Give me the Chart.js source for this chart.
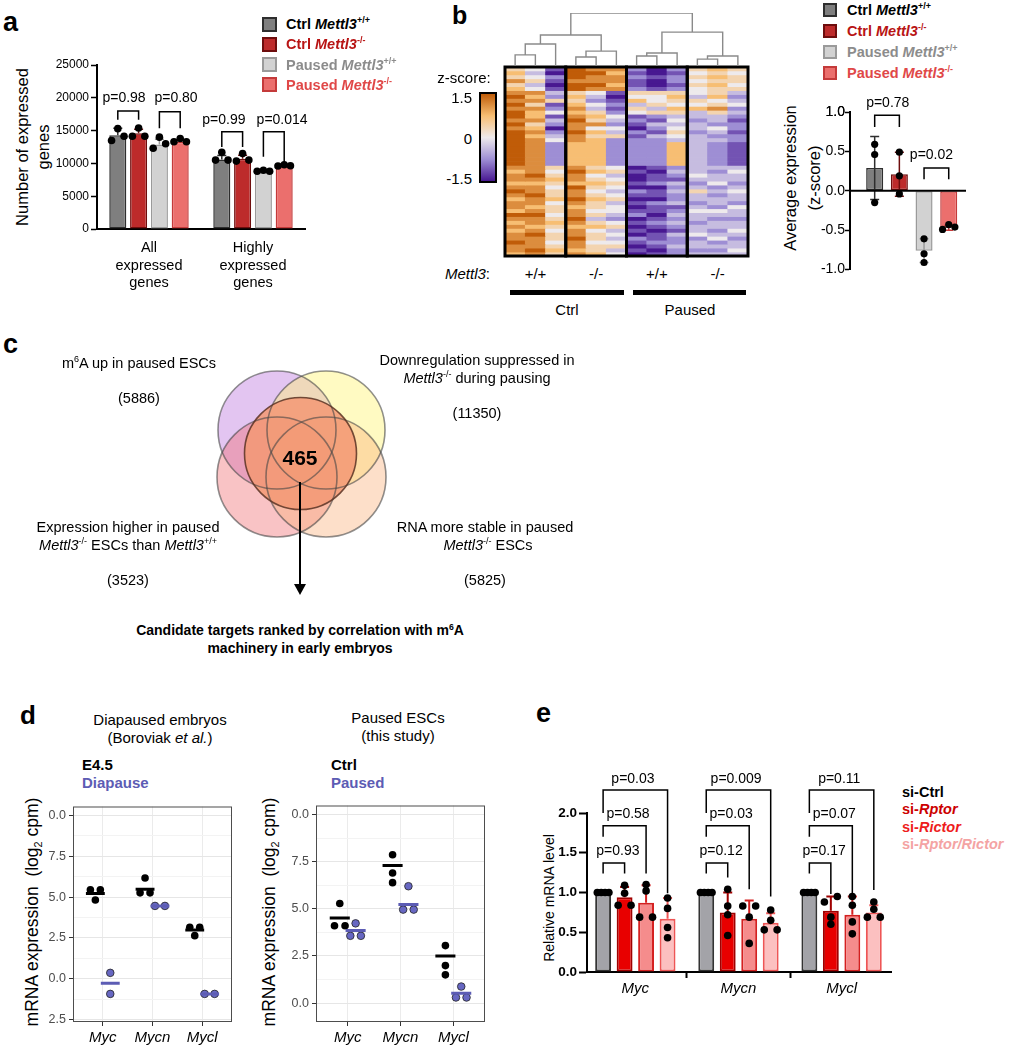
<!DOCTYPE html>
<html lang="en">
<head>
<meta charset="UTF-8">
<title>Mettl3 pausing figure</title>
<script src="https://cdn.jsdelivr.net/npm/chart.js"></script>
<style>
  body { margin: 0; background: #fff; }
  #fig { position: relative; width: 1010px; height: 1050px; overflow: hidden; font-family: "Liberation Sans", Arial, sans-serif; color: #000; }
  #fig canvas { position: absolute; }
  .t { position: absolute; white-space: nowrap; line-height: 1; }
  .t sup { font-size: 0.62em; vertical-align: 0.6em; line-height: 0; }
  .t sub { font-size: 0.62em; vertical-align: -0.3em; line-height: 0; }
  .sq { position: absolute; box-sizing: border-box; border: 2px solid; }
  .blk { position: absolute; background: #000; }
</style>
</head>
<body>
<div id="fig"></div>
<script>
// ---------- data ----------
// a: number of expressed genes (Ctrl +/+, Ctrl -/-, Paused +/+, Paused -/-)
const aGroups = [['All', 'expressed', 'genes'], ['Highly', 'expressed', 'genes']];
const aMean = [[14300, 10600], [14600, 10700], [12900, 8900], [13300, 9700]];
const aSD = [[1050, 600], [600, 550], [800, 120], [280, 120]];
const aDots = [
  [[13500, 15300, 14150], [10500, 11700, 10500]],
  [[14150, 15400, 14150], [10350, 11500, 10500]],
  [[12300, 14000, 13000], [8800, 8950, 8800]],
  [[13300, 13800, 13300], [9600, 9800, 9650]]
];
const aP = ['p=0.98', 'p=0.80', 'p=0.99', 'p=0.014'];
const condNames = [['Ctrl', '+/+'], ['Ctrl', '-/-'], ['Paused', '+/+'], ['Paused', '-/-']];

// b: heatmap, one string per sample column, digit 0..8 -> z -1.5..1.5
const hmCols = [
  '565756' + '787878' + '8787888' + '888888' + '76776787677687676778776',
  '434534' + '767576' + '6756767' + '777777' + '77876778776787767877787',
  '102101' + '325124' + '1320234' + '222222' + '54565455645545654554565',
  '888788' + '565676' + '7877877' + '666666' + '78776877876778767787767',
  '787787' + '432435' + '6574656' + '666666' + '56456545655453564554556',
  '767767' + '101212' + '4324352' + '222222' + '45345434534432453434534',
  '212112' + '546354' + '1210212' + '222222' + '01001021010120101021010',
  '001001' + '544535' + '2132132' + '222222' + '10112011021101210112101',
  '212212' + '565465' + '3434543' + '666666' + '23213232231232321322322',
  '545454' + '435463' + '3233233' + '333333' + '33432353323433233423323',
  '656565' + '564575' + '3324323' + '222222' + '32334232332432332342323',
  '545545' + '323423' + '2122122' + '111111' + '34332343324332334323343'
];
const hmGenotypes = ['+/+', '-/-', '+/+', '-/-'];
const hmConditions = ['Ctrl', 'Paused'];
const zTickLabels = ['1.5', '0', '-1.5'];
// dendrogram merges: left x, right x, height, left base, right base (columns, normalised height)
const dendro = [
  [0.5, 1.5, 0.21, 0, 0], [1.0, 2.5, 0.415, 0.21, 0],
  [3.5, 4.5, 0.17, 0, 0], [4.0, 5.5, 0.28, 0.17, 0],
  [1.75, 4.75, 0.585, 0.415, 0.28],
  [6.5, 7.5, 0.19, 0, 0], [7.0, 8.5, 0.245, 0.19, 0],
  [9.5, 10.5, 0.13, 0, 0], [10.0, 11.5, 0.19, 0.13, 0],
  [7.75, 10.75, 0.64, 0.245, 0.19],
  [3.25, 9.25, 1.0, 0.585, 0.64]
];

// b: average expression (z-score)
const bMean = [0.29, 0.21, -0.76, -0.47];
const bSD = [0.40, 0.28, 0.15, 0.03];
const bDots = [[0.59, 0.46, -0.15], [0.49, 0.19, -0.04], [-0.61, -0.80, -0.91], [-0.49, -0.43, -0.46]];
const bP = ['p=0.78', 'p=0.02'];
const bTicks = [-1, -0.5, 0, 0.5, 1];

// c: venn counts
const vennCounts = ['(5886)', '(11350)', '(3523)', '(5825)'];
const vennCore = '465';

// d: mRNA expression (log2 cpm)
const dGenes = ['Myc', 'Mycn', 'Mycl'];
const dEmbCtrl = [[5.45, 5.45, 4.82], [6.17, 5.26, 5.26], [3.15, 3.15, 2.64]];
const dEmbCtrlMean = [5.22, 5.48, 2.98];
const dEmbDia = [[0.36, -0.93], [4.46, 4.46], [-0.93, -0.93]];
const dEmbDiaMean = [-0.28, 4.46, -0.93];
const dEscCtrl = [[5.28, 4.10, 4.10], [7.87, 6.90, 6.39], [3.05, 1.99, 1.50]];
const dEscCtrlMean = [4.52, 7.30, 2.50];
const dEscPaused = [[4.23, 3.57, 3.57], [6.20, 4.96, 4.96], [0.88, 0.30, 0.30]];
const dEscPausedMean = [3.85, 5.23, 0.53];
const dEmbTickVals = [10, 7.5, 5, 2.5, 0, -2.5];
const dEmbTickLabels = ['0.0', '7.5', '5.0', '2.5', '0.0', '2.5'];
const dEscTickVals = [10, 7.5, 5, 2.5, 0];
const dEscTickLabels = ['0.0', '7.5', '5.0', '2.5', '0.0'];

// e: relative mRNA level (si-Ctrl, si-Rptor, si-Rictor, si-Rptor/Rictor) x (Myc, Mycn, Mycl)
const eMean = [[1, 1, 1], [0.94, 0.75, 0.77], [0.87, 0.67, 0.72], [0.67, 0.62, 0.75]];
const eSD = [[0, 0, 0], [0.13, 0.25, 0.18], [0.22, 0.23, 0.23], [0.26, 0.12, 0.09]];
const eDots = [
  [[1, 1, 1, 1], [1, 1, 1, 1], [1, 1, 1, 1]],
  [[1.09, 0.99, 0.84, 0.84], [1.04, 0.83, 0.72, 0.46], [0.95, 0.88, 0.69, 0.60]],
  [[1.10, 1.02, 0.69, 0.69], [0.83, 0.83, 0.69, 0.36], [0.95, 0.84, 0.63, 0.48]],
  [[0.93, 0.80, 0.56, 0.43], [0.78, 0.65, 0.53, 0.53], [0.88, 0.79, 0.69, 0.69]]
];
const eP = [['p=0.93', 'p=0.58', 'p=0.03'], ['p=0.12', 'p=0.03', 'p=0.009'], ['p=0.17', 'p=0.07', 'p=0.11']];
const eNames = ['si-Ctrl', 'si-<i>Rptor</i>', 'si-<i>Rictor</i>', 'si-<i>Rptor/Rictor</i>'];

// ---------- helpers ----------
const FONT = '"Liberation Sans", Arial, sans-serif';
Chart.defaults.font.family = FONT;
Chart.defaults.color = '#000';
const fig = document.getElementById('fig');

function C(x, y, w, h) {
  const c = document.createElement('canvas');
  c.width = w; c.height = h;
  c.style.left = x + 'px'; c.style.top = y + 'px';
  c.style.width = w + 'px'; c.style.height = h + 'px';
  fig.appendChild(c);
  return c;
}
function T(x, y, html, o = {}) {
  const d = document.createElement('div');
  d.className = 't';
  d.innerHTML = html;
  const a = o.align || 'c';
  let tr = a === 'l' ? 'translate(0,-50%)' : a === 'r' ? 'translate(-100%,-50%)' : 'translate(-50%,-50%)';
  if (o.rot) tr = 'translate(-50%,-50%) rotate(-90deg)';
  d.style.cssText = `left:${x}px;top:${y}px;font-size:${o.size || 15}px;transform:${tr};` +
    (o.bold ? 'font-weight:bold;' : '') + (o.color ? `color:${o.color};` : '') +
    (o.lh ? `line-height:${o.lh}px;text-align:center;` : '');
  fig.appendChild(d);
}
function box(cls, x, y, w, h, css) {
  const d = document.createElement('div');
  d.className = cls;
  d.style.cssText = `left:${x}px;top:${y}px;width:${w}px;height:${h}px;` + (css || '');
  fig.appendChild(d);
}
const base = (extra) => Object.assign({
  responsive: false, devicePixelRatio: 1, animation: false, events: []
}, extra);
const noPlug = { legend: { display: false }, tooltip: { enabled: false } };

// error bars, brackets, zero line, frame
function annot(cfg) {
  return {
    id: 'annot',
    afterDatasetDraw(chart, args) {
      const ds = chart.data.datasets[args.index];
      if (!ds.sd) return;
      const ctx = chart.ctx, xs = chart.scales.x, ys = chart.scales.y;
      ctx.save();
      ctx.strokeStyle = ds.borderColor;
      ctx.lineWidth = cfg.errWidth || 1.5;
      ds.data.forEach((p, i) => {
        const s = ds.sd[i];
        if (!s) return;
        const px = xs.getPixelForValue(p.x), py = ys.getPixelForValue(p.y);
        const ends = cfg.errBoth ? [p.y + s, p.y - s] : [p.y + (p.y < 0 ? -s : s)];
        ends.forEach(v => {
          const q = ys.getPixelForValue(v);
          ctx.beginPath();
          ctx.moveTo(px, py); ctx.lineTo(px, q);
          ctx.moveTo(px - 4.5, q); ctx.lineTo(px + 4.5, q);
          ctx.stroke();
        });
      });
      ctx.restore();
    },
    afterDraw(chart) {
      const ctx = chart.ctx, A = chart.chartArea, xs = chart.scales.x, ys = chart.scales.y;
      ctx.save();
      if (cfg.zero) {
        const y0 = ys.getPixelForValue(0);
        ctx.strokeStyle = '#000'; ctx.lineWidth = 2;
        ctx.beginPath(); ctx.moveTo(A.left, y0); ctx.lineTo(A.right, y0); ctx.stroke();
      }
      if (cfg.frame) {
        ctx.strokeStyle = cfg.frame; ctx.lineWidth = 1;
        ctx.strokeRect(A.left + 0.5, A.top + 0.5, A.right - A.left - 1, A.bottom - A.top - 1);
      }
      if (cfg.topLabel) {
        // make sure the label of the top y tick is painted
        const top = ys.ticks[ys.ticks.length - 1];
        ctx.fillStyle = '#000';
        ctx.font = `${cfg.tickSize || 14}px ${FONT}`;
        ctx.textAlign = 'right'; ctx.textBaseline = 'middle';
        ctx.fillText(top.label, ys.right - cfg.tickGap, ys.getPixelForValue(top.value));
      }
      (cfg.brackets || []).forEach(([x1, x2, top, l1, l2, text, tx, ty]) => {
        const X1 = xs.getPixelForValue(x1), X2 = xs.getPixelForValue(x2), Y = ys.getPixelForValue(top);
        ctx.strokeStyle = '#000'; ctx.lineWidth = 1.5;
        ctx.beginPath();
        ctx.moveTo(X1, ys.getPixelForValue(l1)); ctx.lineTo(X1, Y);
        ctx.lineTo(X2, Y); ctx.lineTo(X2, ys.getPixelForValue(l2));
        ctx.stroke();
        ctx.fillStyle = '#000';
        ctx.font = `${cfg.pSize || 14}px ${FONT}`;
        ctx.textAlign = 'center'; ctx.textBaseline = 'middle';
        ctx.fillText(text, xs.getPixelForValue(tx), ys.getPixelForValue(ty));
      });
      ctx.restore();
    }
  };
}

const condColors = [
  { bg: '#7f7f7f', bd: '#2e2e2e', txt: '#000' },
  { bg: '#bd2b2b', bd: '#6e0d0d', txt: '#b81414' },
  { bg: '#d2d2d2', bd: '#9a9a9a', txt: '#8c8c8c' },
  { bg: '#eb6f6d', bd: '#c43a3a', txt: '#e04848' }
];

// ---------- panel a ----------
T(3, 22, 'a', { size: 27, bold: true, align: 'l' });
T(33, 147, 'Number of expressed<br>genes', { size: 16.5, rot: true, lh: 21 });
const aX = (g, k) => 1 + g * 5 + k;
const aJit = [-0.3, 0, 0.3];
new Chart(C(40, 50, 275, 250), {
  type: 'bar',
  data: {
    datasets: aMean.map((m, k) => ({
      type: 'bar', data: m.map((v, g) => ({ x: aX(g, k), y: v })), sd: aSD[k],
      backgroundColor: condColors[k].bg, borderColor: condColors[k].bd, borderWidth: 1.5,
      borderSkipped: false, grouped: false, barPercentage: 0.82, categoryPercentage: 1, order: 1
    })).concat(aDots.map((grp, k) => ({
      type: 'scatter', order: 0,
      data: grp.flatMap((vals, g) => vals.map((v, j) => ({ x: aX(g, k) + aJit[j], y: v }))),
      pointRadius: 3.8, pointBackgroundColor: '#000', pointBorderWidth: 0
    })))
  },
  options: base({
    layout: { padding: { top: 15, right: 10, left: 0, bottom: 0 } },
    plugins: noPlug,
    scales: {
      x: {
        type: 'linear', min: 0, max: 10, offset: false,
        afterBuildTicks: s => { s.ticks = [{ value: 2.5 }, { value: 7.5 }]; },
        afterFit: s => { s.height = 71; },
        grid: { display: false, drawTicks: false },
        border: { display: true, color: '#000', width: 2 },
        ticks: { callback: (v, i) => aGroups[i], padding: 10, maxRotation: 0, autoSkip: false,
                 font: { size: 14.5, lineHeight: 1.22 } }
      },
      y: {
        min: 0, max: 25000,
        afterFit: s => { s.width = 57; },
        grid: { drawOnChartArea: false, tickLength: 6, tickWidth: 1.5, tickColor: '#000' },
        border: { color: '#000', width: 2 },
        ticks: { stepSize: 5000, callback: v => String(v), font: { size: 12 }, padding: 2 }
      }
    }
  }),
  plugins: [annot({ brackets: [
    [1, 2, 17970, 16650, 16650, aP[0], 1.3, 19900],
    [3, 4, 17870, 15350, 15350, aP[1], 3.8, 19900],
    [6, 7, 14820, 12500, 12500, aP[2], 6.1, 16600],
    [8, 9, 14820, 11000, 10050, aP[3], 8.9, 16600]
  ] })]
});

// legends (a and b)
condNames.forEach(([n, g], k) => {
  const html = `${n} <i>Mettl3</i><sup>${g}</sup>`;
  const c = condColors[k];
  box('sq', 262, 24 + k * 20.3 - 7.5, 15, 15, `background:${c.bg};border-color:${c.bd};`);
  T(286, 24 + k * 20.3, html, { size: 14.5, bold: true, align: 'l', color: c.txt });
  box('sq', 823, 10 + k * 21 - 7, 14, 14, `background:${c.bg};border-color:${c.bd};`);
  T(847, 10 + k * 21, html, { size: 14.5, bold: true, align: 'l', color: c.txt });
});

// ---------- panel b : heatmap ----------
T(452, 15, 'b', { size: 25, bold: true, align: 'l' });
const zStops = [[-1.5, [72, 24, 145]], [-0.75, [158, 142, 212]], [0, [238, 234, 236]], [0.75, [247, 190, 115]], [1.5, [192, 92, 8]]];
function zColor(z) {
  z = Math.max(-1.5, Math.min(1.5, z));
  for (let i = 1; i < zStops.length; i++) {
    const [z0, c0] = zStops[i - 1], [z1, c1] = zStops[i];
    if (z <= z1) {
      const t = (z - z0) / (z1 - z0);
      return `rgb(${c0.map((c, j) => Math.round(c + (c1[j] - c) * t)).join(',')})`;
    }
  }
}
const hmRows = hmCols[0].length;
const hmData = [];
for (let r = 0; r < hmRows; r++) {
  hmData.push({
    data: hmCols.map(() => 1),
    backgroundColor: hmCols.map(s => zColor((+s[r] - 4) * 0.375)),
    borderWidth: 0, barPercentage: 1, categoryPercentage: 1
  });
}
const hmFrame = {
  id: 'hmFrame',
  afterDraw(chart) {
    const ctx = chart.ctx, A = chart.chartArea, w = (A.right - A.left) / 4;
    ctx.save();
    ctx.strokeStyle = '#000'; ctx.lineWidth = 3;
    for (let b = 0; b < 4; b++) ctx.strokeRect(A.left + b * w, A.top, w, A.bottom - A.top);
    ctx.restore();
  }
};
new Chart(C(503, 64, 247, 195), {
  type: 'bar',
  data: { labels: hmCols.map((_, i) => 'S' + (i + 1)), datasets: hmData },
  options: base({
    layout: { padding: { left: 2, right: 2, top: 3, bottom: 3 } },
    plugins: noPlug,
    scales: {
      x: { display: false, stacked: true },
      y: { display: false, stacked: true, reverse: true, min: 0, max: hmRows }
    }
  }),
  plugins: [hmFrame]
});
const dendPts = [];
dendro.forEach(([xl, xr, h, hl, hr]) => {
  dendPts.push({ x: xl, y: hl }, { x: xl, y: h }, { x: xr, y: h }, { x: xr, y: hr }, { x: xr, y: null });
});
new Chart(C(503, 10, 247, 57), {
  type: 'scatter',
  data: { datasets: [{ data: dendPts, showLine: true, spanGaps: false, borderColor: '#8a8a8a', borderWidth: 1.4, pointRadius: 0 }] },
  options: base({
    layout: { padding: { left: 2, right: 2, top: 3, bottom: 1 } },
    plugins: noPlug,
    scales: { x: { display: false, min: 0, max: 12 }, y: { display: false, min: 0, max: 1 } }
  })
});
T(464, 77, 'z-score:', { size: 15 });
box('sq', 479, 92, 18, 91, 'border-color:#000;background:linear-gradient(to bottom,' +
  zStops.slice().reverse().map(s => `rgb(${s[1].join(',')})`).join(',') + ');');
zTickLabels.forEach((l, i) => T(472, 97 + i * 40.5, l, { size: 15, align: 'r' }));
T(490, 273, '<i>Mettl3</i>:', { size: 15, align: 'r' });
hmGenotypes.forEach((g, i) => T(535.5 + i * 60.7, 273, g, { size: 15 }));
box('blk', 510, 290, 114, 5);
box('blk', 633, 290, 113, 5);
hmConditions.forEach((c, i) => T(567 + i * 123, 309, c, { size: 15 }));

// ---------- panel b : bars ----------
T(802, 178, 'Average expression<br>(z-score)', { size: 16.5, rot: true, lh: 24 });
new Chart(C(805, 85, 171, 193), {
  type: 'bar',
  data: {
    datasets: bMean.map((m, k) => ({
      type: 'bar', data: [{ x: k + 1, y: m }], sd: [bSD[k]],
      backgroundColor: condColors[k].bg, borderColor: condColors[k].bd, borderWidth: 1.5,
      borderSkipped: false, grouped: false, barPercentage: 0.69, categoryPercentage: 1, order: 1
    })).concat(bDots.map((vals, k) => ({
      type: 'scatter', order: 0,
      data: vals.map((v, j) => ({ x: k + 1 + (k === 3 ? (j - 1) * 0.25 : 0), y: v })),
      pointRadius: 3.6, pointBackgroundColor: '#000', pointBorderWidth: 0
    })))
  },
  options: base({
    layout: { padding: { top: 27, right: 10, left: 0, bottom: 5 } },
    plugins: noPlug,
    scales: {
      x: { type: 'linear', display: false, min: 0, max: 4.7, offset: false },
      y: {
        min: -1, max: 1,
        afterBuildTicks: s => { s.ticks = bTicks.map(v => ({ value: v })); },
        afterFit: s => { s.width = 45; },
        grid: { drawOnChartArea: false, tickLength: 5, tickWidth: 1.5, tickColor: '#000' },
        border: { color: '#000', width: 2 },
        ticks: { autoSkip: false, callback: v => Number(v).toFixed(1), font: { size: 14 }, padding: 0 }
      }
    }
  }),
  plugins: [annot({ errBoth: true, zero: true, topLabel: true, tickGap: 5, tickSize: 14, brackets: [
    [1, 2, 0.96, 0.81, 0.81, bP[0], 1.53, 1.11],
    [3, 4, 0.29, 0.145, 0.145, bP[1], 3.3, 0.45]
  ] })]
});

// ---------- panel c : venn ----------
T(3, 344, 'c', { size: 27, bold: true, align: 'l' });
const vennLayout = [
  { x: 97, y: 70, r: 59, fill: 'rgba(185,110,220,0.40)' },
  { x: 146, y: 70, r: 59, fill: 'rgba(255,242,110,0.42)' },
  { x: 97, y: 117, r: 60, fill: 'rgba(240,105,110,0.40)' },
  { x: 146, y: 117, r: 60, fill: 'rgba(250,175,120,0.40)' },
  { x: 120.5, y: 93.5, r: 56, fill: 'rgba(243,152,116,0.86)' }
];
const vennDraw = {
  id: 'vennDraw',
  afterDatasetsDraw(chart) {
    const ctx = chart.ctx, xs = chart.scales.x, ys = chart.scales.y;
    const pts = chart.data.datasets[0].data;
    const k = xs.getPixelForValue(100) - xs.getPixelForValue(0);
    const circle = p => {
      ctx.beginPath();
      ctx.arc(xs.getPixelForValue(p.x), ys.getPixelForValue(p.y), p.r * k / 100, 0, Math.PI * 2);
    };
    ctx.save();
    pts.forEach(p => { circle(p); ctx.fillStyle = p.fill; ctx.fill(); });
    pts.forEach((p, i) => {
      circle(p);
      ctx.strokeStyle = i === 4 ? 'rgba(90,50,35,0.85)' : 'rgba(70,70,70,0.6)';
      ctx.lineWidth = 1.6; ctx.stroke();
    });
    ctx.restore();
  }
};
new Chart(C(180, 360, 240, 240), {
  type: 'scatter',
  data: { datasets: [{ data: vennLayout, pointRadius: 0 }] },
  options: base({
    plugins: noPlug,
    scales: { x: { display: false, min: 0, max: 240 }, y: { display: false, min: 0, max: 240, reverse: true } }
  }),
  plugins: [vennDraw]
});
T(300, 457, vennCore, { size: 21, bold: true });
box('blk', 299, 482, 2, 103);
box('blk', 294, 584, 0, 0, 'background:none;border-left:6px solid transparent;border-right:6px solid transparent;border-top:11px solid #000;');
T(139, 363, 'm<sup>6</sup>A up in paused ESCs', { size: 14.5 });
T(139, 398, vennCounts[0], { size: 14.5 });
T(477, 360, 'Downregulation suppressed in', { size: 14.5 });
T(477, 378, '<i>Mettl3</i><sup>-/-</sup> during pausing', { size: 14.5 });
T(477, 413, vennCounts[1], { size: 14.5 });
T(128, 527, 'Expression higher in paused', { size: 14.5 });
T(128, 545, '<i>Mettl3</i><sup>-/-</sup> ESCs than <i>Mettl3</i><sup>+/+</sup>', { size: 14.5 });
T(128, 580, vennCounts[2], { size: 14.5 });
T(485, 527, 'RNA more stable in paused', { size: 14.5 });
T(488, 545, '<i>Mettl3</i><sup>-/-</sup> ESCs', { size: 14.5 });
T(485, 580, vennCounts[3], { size: 14.5 });
T(300, 630, 'Candidate targets ranked by correlation with m<sup>6</sup>A', { size: 14, bold: true });
T(300, 648, 'machinery in early embryos', { size: 14, bold: true });

// ---------- panel d ----------
T(20, 715, 'd', { size: 26, bold: true, align: 'l' });
const BLUE = '#5c5cb4';
function dotSet(vals, dodge, jit, color) {
  return {
    type: 'scatter', order: 1,
    data: vals.flatMap((vs, i) => vs.map((v, j) => ({ x: i + 1 + dodge + jit[i][j] * 0.1, y: v }))),
    pointRadius: 3.8, pointBackgroundColor: color, pointBorderColor: '#222', pointBorderWidth: color === '#000' ? 0 : 0.8
  };
}
function meanSet(means, dodge, color) {
  return {
    type: 'scatter', order: 0, showLine: true, spanGaps: false, pointRadius: 0,
    borderColor: color, borderWidth: 3,
    data: means.flatMap((m, i) => [
      { x: i + 1 + dodge - 0.19, y: m }, { x: i + 1 + dodge + 0.19, y: m }, { x: i + 1 + dodge, y: null }
    ])
  };
}
function dChart(cv, sets, yMin, yMax, tickVals, tickLabels) {
  const grid = [];
  tickVals.forEach((v, i) => { grid.push(v); if (i < tickVals.length - 1) grid.push((v + tickVals[i + 1]) / 2); });
  const isMajor = v => tickVals.some(t => Math.abs(t - v) < 1e-6);
  return new Chart(cv, {
    type: 'scatter',
    data: { datasets: sets },
    options: base({
      layout: { padding: { top: 8, right: 8, left: 0, bottom: 0 } },
      plugins: noPlug,
      scales: {
        x: {
          type: 'linear', min: 0.4, max: 3.6,
          afterBuildTicks: s => { s.ticks = [1, 2, 3].map(v => ({ value: v })); },
          afterFit: s => { s.height = 28; },
          grid: { color: '#ebebeb', tickLength: 4, tickColor: '#333' },
          border: { display: false },
          ticks: { callback: (v, i) => dGenes[i], font: { size: 15, style: 'italic' }, padding: 3, autoSkip: false, maxRotation: 0 }
        },
        y: {
          min: yMin, max: yMax,
          afterBuildTicks: s => { s.ticks = grid.map(v => ({ value: v })); },
          afterFit: s => { s.width = 33; },
          grid: {
            color: c => isMajor(c.tick.value) ? '#e6e6e6' : '#f3f3f3',
            tickColor: c => isMajor(c.tick.value) ? '#333' : 'rgba(0,0,0,0)',
            tickLength: 4
          },
          border: { display: false },
          ticks: {
            autoSkip: false, padding: 3, color: '#4d4d4d', font: { size: 12.5 },
            callback: v => { const i = tickVals.findIndex(t => Math.abs(t - v) < 1e-6); return i < 0 ? '' : tickLabels[i]; }
          }
        }
      }
    }),
    plugins: [annot({ frame: '#4d4d4d' })]
  });
}
T(33, 912, 'mRNA expression&nbsp; (log<sub>2</sub> cpm)', { size: 17.5, rot: true });
T(270, 912, 'mRNA expression&nbsp; (log<sub>2</sub> cpm)', { size: 17.5, rot: true });
dChart(C(40, 796, 200, 254), [
  meanSet(dEmbCtrlMean, -0.15, '#000'), meanSet(dEmbDiaMean, 0.15, BLUE),
  dotSet(dEmbCtrl, -0.15, [[-1, 1, 0], [0, -1, 1], [-1, 1, 0]], '#000'),
  dotSet(dEmbDia, 0.15, [[0, 0], [-1, 1], [-1, 1]], '#6767c2')
], -2.65, 10.55, dEmbTickVals, dEmbTickLabels);
dChart(C(283, 795, 210, 255), [
  meanSet(dEscCtrlMean, -0.15, '#000'), meanSet(dEscPausedMean, 0.15, BLUE),
  dotSet(dEscCtrl, -0.15, [[0, -1, 1], [0, 0, 0], [0, 0, 0]], '#000'),
  dotSet(dEscPaused, 0.15, [[0, -1, 1], [0, -1, 1], [0, -1, 1]], '#6767c2')
], -1.0, 10.48, dEscTickVals, dEscTickLabels);
T(160, 719, 'Diapaused embryos', { size: 15 });
T(160, 737, '(Boroviak <i>et al.</i>)', { size: 15 });
T(398, 717, 'Paused ESCs', { size: 15 });
T(398, 735, '(this study)', { size: 15 });
T(82, 764, 'E4.5', { size: 15, bold: true, align: 'l' });
T(82, 782, 'Diapause', { size: 15, bold: true, align: 'l', color: BLUE });
T(331, 764, 'Ctrl', { size: 15, bold: true, align: 'l' });
T(331, 782, 'Paused', { size: 15, bold: true, align: 'l', color: BLUE });

// ---------- panel e ----------
T(536, 713, 'e', { size: 27, bold: true, align: 'l' });
T(549, 898, 'Relative mRNA level', { size: 14, rot: true });
const eColors = [
  { bg: '#a3a3a8', bd: '#333333', txt: '#000' },
  { bg: '#e80000', bd: '#a00000', txt: '#cc0000' },
  { bg: '#f58c8c', bd: '#d42020', txt: '#ee1c1c' },
  { bg: '#fcc0c0', bd: '#ee5555', txt: '#f4a3a3' }
];
const eX = (g, k) => 1 + g * 4.8 + k;
const eJit = [
  [[-1.5, -0.5, 0.5, 1.5], [-1.5, -0.5, 0.5, 1.5], [-1.5, -0.5, 0.5, 1.5]],
  [[0, 0, -1, 1], [0, 0, 0, 0], [1, -1, 0, 0]],
  [[0, 0, -1, 1], [-1, 1, 0, 0], [0, 0, 0, 0]],
  [[0, 0, 0, 0], [0, 0, -1, 1], [0, 0, -1, 1]]
];
const eJitStep = [0.18, 0.3, 0.3, 0.3];
const eLegs = [[1.24, 1.24, 0.99], [1.19, 1.04, 0.95], [0.98, 0.97, 1.03]];
const eBr = [];
eP.forEach((ps, g) => {
  const x0 = eX(g, 0);
  eBr.push([x0, x0 + 1, 1.37, 1.24, eLegs[g][0], ps[0], x0 + 0.69, 1.52]);
  eBr.push([x0, x0 + 2, 1.84, 1.70, eLegs[g][1], ps[1], x0 + 1.16, 1.98]);
  eBr.push([x0, x0 + 3, 2.29, 2.00, eLegs[g][2], ps[2], x0 + 1.39, 2.42]);
});
new Chart(C(530, 760, 370, 245), {
  type: 'bar',
  data: {
    datasets: eMean.map((m, k) => ({
      type: 'bar', data: m.map((v, g) => ({ x: eX(g, k), y: v })), sd: eSD[k],
      backgroundColor: eColors[k].bg, borderColor: eColors[k].bd, borderWidth: 2,
      borderSkipped: false, grouped: false, barPercentage: 0.74, categoryPercentage: 1, order: 1
    })).concat(eDots.map((grp, k) => ({
      type: 'scatter', order: 0,
      data: grp.flatMap((vals, g) => vals.map((v, j) => ({ x: eX(g, k) + eJit[k][g][j] * eJitStep[k], y: v }))),
      pointRadius: 3.8, pointBackgroundColor: '#000', pointBorderWidth: 0
    })))
  },
  options: base({
    layout: { padding: { top: 53, right: 9, left: 0, bottom: 0 } },
    plugins: noPlug,
    scales: {
      x: {
        type: 'linear', min: 0.25, max: 14.4, offset: false,
        afterBuildTicks: s => { s.ticks = [0, 1, 2].map(g => ({ value: eX(g, 1.5) })); },
        afterFit: s => { s.height = 33; },
        grid: { drawOnChartArea: false, tickLength: 6, tickWidth: 2, tickColor: '#000' },
        border: { color: '#000', width: 2 },
        ticks: { callback: (v, i) => dGenes[i], font: { size: 15, style: 'italic' }, padding: 2, autoSkip: false, maxRotation: 0 }
      },
      y: {
        min: 0, max: 2,
        afterFit: s => { s.width = 57; },
        grid: { drawOnChartArea: false, tickLength: 8, tickWidth: 2, tickColor: '#000' },
        border: { color: '#000', width: 2 },
        ticks: { stepSize: 0.5, callback: v => v.toFixed(1), font: { size: 13.5, weight: 'bold' }, padding: 2 }
      }
    }
  }),
  plugins: [annot({ errWidth: 2, brackets: eBr })]
});
eNames.forEach((n, k) => T(902, 792 + k * 17.4, n, { size: 14.5, bold: true, align: 'l', color: eColors[k].txt }));
</script>
</body>
</html>
